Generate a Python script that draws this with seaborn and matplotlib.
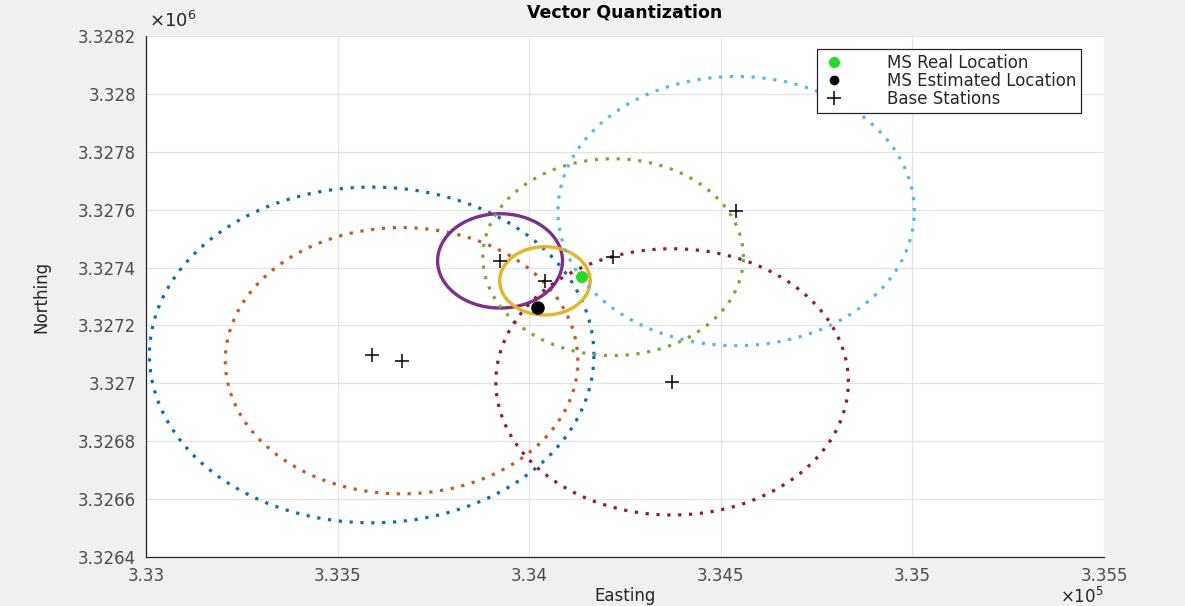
import matplotlib
matplotlib.use("Agg")
import matplotlib.pyplot as plt
import matplotlib.ticker as mticker
from matplotlib.lines import Line2D
import numpy as np
import pandas as pd
import seaborn as sns

# base stations (easting, northing) and the range circle radius around each
bs_east = [333589, 333667, 333924, 334041, 334219, 334373, 334540]
bs_north = [3327098, 3327078, 3327423, 3327354, 3327436, 3327005, 3327595]
bs_radius = [580, 460, 163, 118, 340, 460, 465]
circle_colors = ["#0072BD", "#D95319", "#7E2F8E", "#EDB120", "#77AC30", "#A2142F", "#4DBEEE"]
circle_solid = [False, False, True, True, False, False, False]

ms_real = (334138, 3327367)
ms_est = (334023, 3327260)

x_ticks = [333000, 333500, 334000, 334500, 335000, 335500]
y_ticks = [3326400, 3326600, 3326800, 3327000, 3327200, 3327400, 3327600,
           3327800, 3328000, 3328200]

sns.set_style("whitegrid")
plt.rcParams["font.family"] = ["DejaVu Sans"]

fig = plt.figure(figsize=(11.85, 6.06), dpi=100, facecolor="#F0F0F0")
ax = fig.add_axes([0.1232, 0.0809, 0.8084, 0.8597])
ax.set_facecolor("white")

theta = np.linspace(0, 2 * np.pi, 361)
for e, n, r, c, solid in zip(bs_east, bs_north, bs_radius, circle_colors, circle_solid):
    circ = pd.DataFrame({"x": e + r * np.cos(theta), "y": n + r * np.sin(theta)})
    if solid:
        sns.lineplot(data=circ, x="x", y="y", sort=False, estimator=None,
                     color=c, lw=2.4, ax=ax)
    else:
        sns.lineplot(data=circ, x="x", y="y", sort=False, estimator=None,
                     color=c, lw=2.3, linestyle=(0, (1, 2.4)), ax=ax)

sns.scatterplot(x=[ms_real[0]], y=[ms_real[1]], color="#22DD22", s=75,
                edgecolor="none", ax=ax, zorder=5)
sns.scatterplot(x=[ms_est[0]], y=[ms_est[1]], color="black", s=95,
                edgecolor="none", ax=ax, zorder=5)
sns.scatterplot(x=bs_east, y=bs_north, marker="+", color="black", s=110,
                linewidth=1.1, ax=ax, zorder=6)

ax.set_xlim(333000, 335500)
ax.set_ylim(3326400, 3328200)
ax.set_xticks(x_ticks)
ax.set_yticks(y_ticks)
ax.xaxis.set_major_formatter(mticker.FuncFormatter(lambda v, p: f"{v / 1e5:.4f}".rstrip("0").rstrip(".")))
ax.yaxis.set_major_formatter(mticker.FuncFormatter(lambda v, p: f"{v / 1e6:.5f}".rstrip("0").rstrip(".")))
ax.tick_params(axis="both", direction="in", length=5, width=0.8, colors="#262626",
               labelsize=12, pad=7)
ax.tick_params(axis="both", labelcolor="#4D4D4D")
ax.grid(True, color="#E3E3E3", lw=0.9)
for side in ["top", "right"]:
    ax.spines[side].set_visible(False)
for side in ["left", "bottom"]:
    ax.spines[side].set_color("#262626")
    ax.spines[side].set_linewidth(0.9)

ax.set_title("Vector Quantization", fontsize=12.5, fontweight="bold", color="black", pad=13)
ax.set_xlabel("Easting", fontsize=12, color="#262626", labelpad=2)
ax.set_ylabel("Northing", fontsize=12, color="#262626", labelpad=20)

ax.text(0.003, 1.01, r"$\times10^{6}$", transform=ax.transAxes, fontsize=13,
        color="#262626", ha="left", va="bottom")
ax.text(1.0, -0.058, r"$\times10^{5}$", transform=ax.transAxes, fontsize=12,
        color="#262626", ha="right", va="top")

handles = [
    Line2D([], [], marker="o", ls="none", color="#22DD22", markersize=8, markeredgecolor="none"),
    Line2D([], [], marker="o", ls="none", color="black", markersize=7, markeredgecolor="none"),
    Line2D([], [], marker="+", ls="none", color="black", markersize=10, markeredgewidth=1.1),
]
leg = ax.legend(handles, ["MS Real Location", "MS Estimated Location", "Base Stations"],
                loc="upper right", bbox_to_anchor=(0.976, 0.975), fontsize=12,
                frameon=True, fancybox=False, framealpha=1, edgecolor="#262626",
                borderpad=0.3, labelspacing=0.0, handletextpad=2.4, handlelength=1.5,
                borderaxespad=0.0)
leg.get_frame().set_linewidth(0.9)

fig.savefig("out.png", dpi=100, facecolor=fig.get_facecolor())
